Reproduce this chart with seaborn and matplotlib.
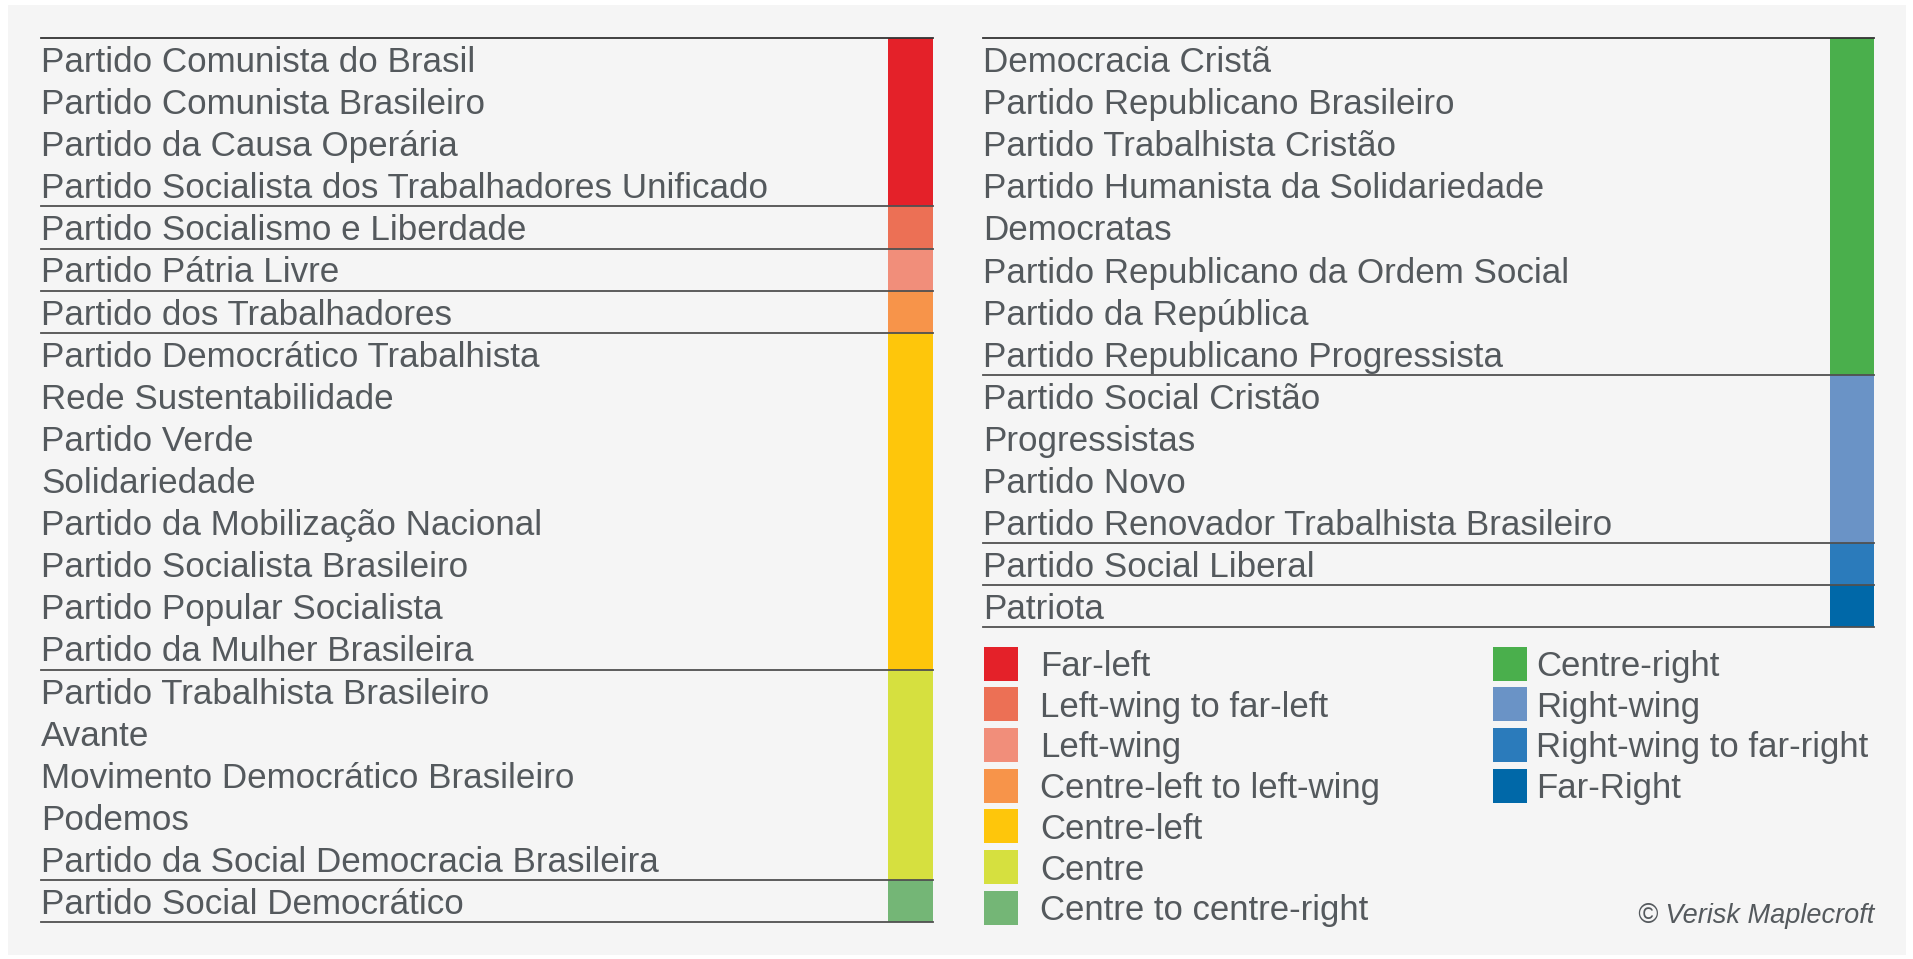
import numpy as np
import pandas as pd
import seaborn as sns
import matplotlib.pyplot as plt
from matplotlib.colors import ListedColormap
from matplotlib.patches import Rectangle

# categories and colours
categories = ['Far-left', 'Left-wing to far-left', 'Left-wing', 'Centre-left to left-wing',
              'Centre-left', 'Centre', 'Centre to centre-right', 'Centre-right',
              'Right-wing', 'Right-wing to far-right', 'Far-Right']
cat_colors = ['#e42129', '#ec7055', '#f18e7a', '#f7944a', '#fec60b', '#d6e03f',
              '#74b676', '#4aaf4c', '#6a93c6', '#2b7bbb', '#0068a8']

left_parties = ['Partido Comunista do Brasil', 'Partido Comunista Brasileiro',
                'Partido da Causa Operária', 'Partido Socialista dos Trabalhadores Unificado',
                'Partido Socialismo e Liberdade', 'Partido Pátria Livre',
                'Partido dos Trabalhadores', 'Partido Democrático Trabalhista',
                'Rede Sustentabilidade', 'Partido Verde', 'Solidariedade',
                'Partido da Mobilização Nacional', 'Partido Socialista Brasileiro',
                'Partido Popular Socialista', 'Partido da Mulher Brasileira',
                'Partido Trabalhista Brasileiro', 'Avante', 'Movimento Democrático Brasileiro',
                'Podemos', 'Partido da Social Democracia Brasileira', 'Partido Social Democrático']
left_cats = [0, 0, 0, 0, 1, 2, 3, 4, 4, 4, 4, 4, 4, 4, 4, 5, 5, 5, 5, 5, 6]

right_parties = ['Democracia Cristã', 'Partido Republicano Brasileiro',
                 'Partido Trabalhista Cristão', 'Partido Humanista da Solidariedade',
                 'Democratas', 'Partido Republicano da Ordem Social', 'Partido da República',
                 'Partido Republicano Progressista', 'Partido Social Cristão', 'Progressistas',
                 'Partido Novo', 'Partido Renovador Trabalhista Brasileiro',
                 'Partido Social Liberal', 'Patriota']
right_cats = [7, 7, 7, 7, 7, 7, 7, 7, 8, 8, 8, 8, 9, 10]

W, H = 1913, 959
ROW = 42.1
TOP = 38
TXT = '#54595d'
LINE = '#505050'
FONT = 'Liberation Sans'

fig = plt.figure(figsize=(W / 100, H / 100), dpi=100)
fig.patch.set_facecolor('white')

def rect(x, y, w, h):
    return [x / W, 1 - (y + h) / H, w / W, h / H]

bg = fig.add_axes([0, 0, 1, 1], zorder=0)
bg.set_xlim(0, W); bg.set_ylim(H, 0); bg.axis('off')
bg.add_patch(Rectangle((8, 5), 1898, 950, color='#f5f5f5', lw=0))

cmap = ListedColormap(cat_colors)

def table(parties, cats, x_text, x_bar, x_end, ov):
    n = len(parties)
    hax = fig.add_axes(rect(x_bar, TOP, x_end - x_bar, n * ROW), zorder=1)
    df = pd.DataFrame({'cat': cats}, index=parties)
    sns.heatmap(df, cmap=cmap, vmin=-0.5, vmax=len(cat_colors) - 0.5, cbar=False,
                xticklabels=False, yticklabels=False, ax=hax)
    hax.set_xlabel(''); hax.set_ylabel('')
    for i, name in enumerate(parties):
        ov.text(x_text, TOP + i * ROW + 34, name, fontsize=25.2, color=TXT,
                family=FONT, va='baseline', ha='left')
    # group separators
    ov.plot([x_text, x_end], [TOP, TOP], color='#333333', lw=1.3)
    for i in range(1, n + 1):
        if i == n or cats[i] != cats[i - 1]:
            ov.plot([x_text, x_end], [TOP + i * ROW] * 2, color=LINE, lw=1.3)

ov = fig.add_axes([0, 0, 1, 1], zorder=2)
ov.patch.set_alpha(0)

table(left_parties, left_cats, 41, 888, 933, ov)
table(right_parties, right_cats, 983, 1830, 1874, ov)

# legend
leg_x, leg_y = [], []
for i, c in enumerate(categories):
    col, r = (0, i) if i < 7 else (1, i - 7)
    leg_x.append(1001 if col == 0 else 1510)
    leg_y.append(663.5 + r * 40.7)
leg = pd.DataFrame({'x': leg_x, 'y': leg_y, 'cat': categories})
sns.scatterplot(data=leg, x='x', y='y', hue='cat', palette=cat_colors, marker='s',
                s=(34 * 0.72) ** 2, linewidth=0, legend=False, ax=ov)
for i, c in enumerate(categories):
    tx = 1040 if i < 7 else 1536
    ov.text(tx, leg_y[i] + 12.5, c, fontsize=25, color=TXT, family=FONT,
            va='baseline', ha='left')

ov.text(1874, 923, '© Verisk Maplecroft', fontsize=19.5, style='italic', color=TXT,
        family=FONT, ha='right', va='baseline')

ov.set_xlim(0, W); ov.set_ylim(H, 0); ov.axis('off')

fig.savefig('out.png', dpi=100, facecolor='white')
